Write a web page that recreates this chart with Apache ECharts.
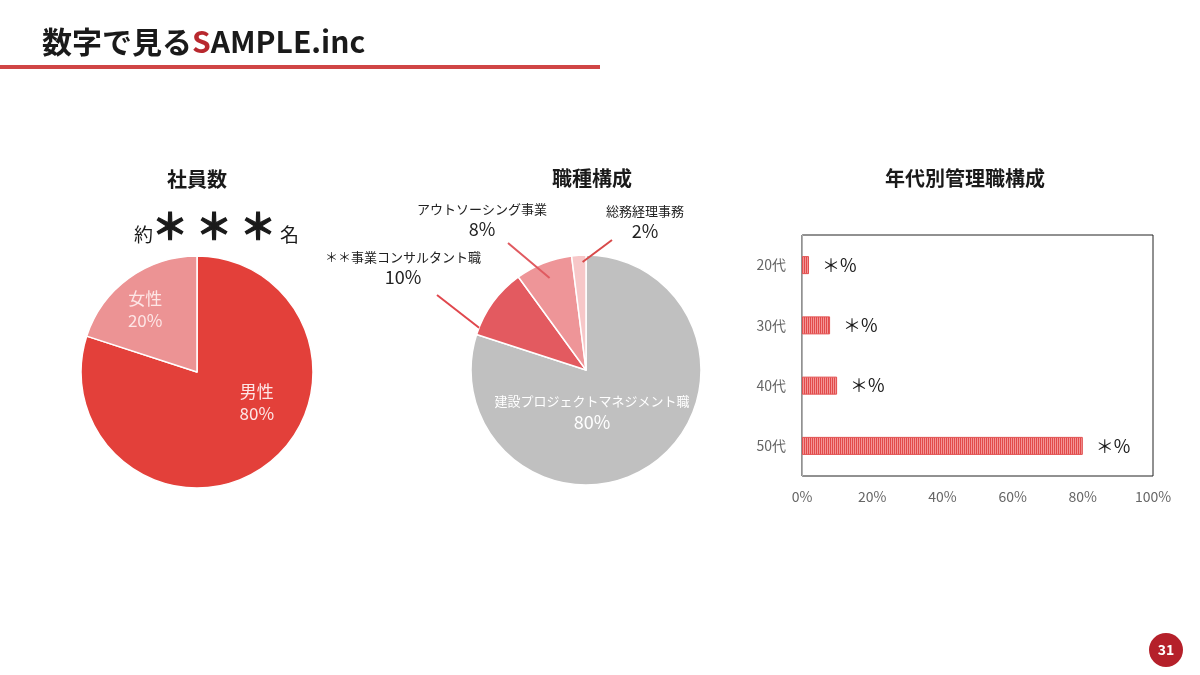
<!DOCTYPE html>
<html>
<head>
<meta charset="utf-8">
<script src="https://cdn.jsdelivr.net/npm/echarts@6/dist/echarts.min.js"></script>
<style>
  html, body { margin: 0; background: #fff; }
  #chart { width: 1200px; height: 675px; }
</style>
</head>
<body>
<div id="chart"></div>
<script>
// data
const genderNames = ['男性', '女性'];
const genderValues = [80, 20];
const genderColors = ['#e3403a', '#ec9394'];

const jobNames = ['建設プロジェクトマネジメント職', '＊＊事業コンサルタント職', 'アウトソーシング事業', '総務経理事務'];
const jobValues = [80, 10, 8, 2];
const jobColors = ['#c0c0c0', '#e35a60', '#ee9598', '#f7c7c8'];
const jobLineColors = [null, '#e0474d', '#e05a60', '#d84a4a'];

const ageCategories = ['20代', '30代', '40代', '50代'];
const ageValues = [2, 8, 10, 80];
const ageValueText = '＊%';

const FONT = '"Noto Sans CJK JP", "Noto Sans", sans-serif';

// striped fill for the bars
const stripe = document.createElement('canvas');
stripe.width = 2;
stripe.height = 2;
const sctx = stripe.getContext('2d');
sctx.fillStyle = '#e24a4a';
sctx.fillRect(0, 0, 1, 2);
sctx.fillStyle = '#f39595';
sctx.fillRect(1, 0, 1, 2);

// second pie geometry
const JOB_CENTER = [586, 370];
const JOB_RADIUS = 115;
// outside labels: [x, y, lineStartDx, lineStartDy, where along the slice, how deep]
const jobLabelAt = {
    0: [592, 412],
    1: [403, 268, 34, 27, 0.1, 1.0],
    2: [482, 220, 26, 23, 0.5, 0.86],
    3: [645, 222, -33, 18, 0.75, 0.94]
};
// nudges for inside labels of the first pie
const genderLabelShift = { 0: [24, -19], 1: [-16, -13] };

// point inside a slice of the second pie
function jobSlicePoint(index, frac, depth) {
    const total = jobValues.reduce((a, b) => a + b, 0);
    let before = 0;
    for (let i = 0; i < index; i++) before += jobValues[i];
    const deg = (before + jobValues[index] * frac) / total * 360;
    const rad = deg * Math.PI / 180;
    return [JOB_CENTER[0] + Math.sin(rad) * JOB_RADIUS * depth, JOB_CENTER[1] - Math.cos(rad) * JOB_RADIUS * depth];
}

// leader lines from the outside labels into their slices
const leaderLines = [1, 2, 3].map(i => {
    const o = jobLabelAt[i];
    const tip = jobSlicePoint(i, o[4], o[5]);
    return {
        type: 'line', z: 100,
        shape: { x1: o[0] + o[2], y1: o[1] + o[3], x2: tip[0], y2: tip[1] },
        style: { stroke: jobLineColors[i], lineWidth: 2 }
    };
});

const chart = echarts.init(document.getElementById('chart'));

const option = {
    animation: false,
    textStyle: { fontFamily: FONT },
    graphic: [
        {
            type: 'text', x: 42, y: 42,
            style: {
                text: '{k|数字で見る}{s|S}{k|AMPLE.inc}',
                verticalAlign: 'middle',
                rich: {
                    k: { fontFamily: FONT, fontSize: 30, fontWeight: 'bold', fill: '#1a1a1a' },
                    s: { fontFamily: FONT, fontSize: 30, fontWeight: 'bold', fill: '#b8282e' }
                }
            }
        },
        { type: 'rect', shape: { x: 0, y: 65, width: 600, height: 4 }, style: { fill: '#d04545' } },
        { type: 'text', x: 197, y: 179, style: { text: '社員数', font: 'bold 20px ' + FONT, fill: '#1a1a1a', align: 'center', verticalAlign: 'middle' } },
        { type: 'text', x: 592, y: 178, style: { text: '職種構成', font: 'bold 20px ' + FONT, fill: '#1a1a1a', align: 'center', verticalAlign: 'middle' } },
        { type: 'text', x: 965, y: 178, style: { text: '年代別管理職構成', font: 'bold 20px ' + FONT, fill: '#1a1a1a', align: 'center', verticalAlign: 'middle' } },
        {
            type: 'text', x: 134, y: 226,
            style: {
                text: '{m|約}{b1|＊}{b|＊}{b|＊}{m|名}',
                align: 'left', verticalAlign: 'middle',
                rich: {
                    m: { fontFamily: FONT, fontSize: 19, fill: '#1a1a1a', verticalAlign: 'bottom', width: 15, padding: [4, 0, 0, 0] },
                    b1: { fontFamily: FONT, fontSize: 36, fontWeight: 'bold', fill: '#1a1a1a', stroke: '#1a1a1a', lineWidth: 1.2, padding: [0, 4, 0, 3] },
                    b: { fontFamily: FONT, fontSize: 36, fontWeight: 'bold', fill: '#1a1a1a', stroke: '#1a1a1a', lineWidth: 1.2, padding: [0, 4, 0, 4] }
                }
            }
        },
        { type: 'circle', shape: { cx: 1166, cy: 650, r: 17 }, style: { fill: '#b5202a' } },
        { type: 'text', x: 1166, y: 650, style: { text: '31', font: 'bold 14px ' + FONT, fill: '#fff', align: 'center', verticalAlign: 'middle' } }
    ].concat(leaderLines),
    grid: {
        left: 802, right: 47, top: 235, bottom: 199,
        show: true, borderColor: '#222', borderWidth: 1
    },
    xAxis: {
        type: 'value', min: 0, max: 100, interval: 20,
        axisLine: { show: false },
        axisTick: { show: false },
        splitLine: { show: false },
        axisLabel: { formatter: '{value}%', color: '#666', fontSize: 14, margin: 14, fontFamily: FONT }
    },
    yAxis: {
        type: 'category', inverse: true, data: ageCategories,
        axisLine: { show: true, lineStyle: { color: '#b0b0b0', width: 1 } },
        axisTick: { show: false },
        axisLabel: { color: '#666', fontSize: 14, margin: 16, fontFamily: FONT }
    },
    series: [
        {
            type: 'pie',
            center: [197, 372],
            radius: 116,
            startAngle: 90,
            clockwise: true,
            itemStyle: { borderColor: '#fff', borderWidth: 1.5 },
            label: {
                position: 'inside',
                formatter: '{b}\n{c}%',
                color: '#fde6e6',
                fontSize: 17,
                lineHeight: 22,
                fontFamily: FONT
            },
            labelLayout: function (p) {
                const s = genderLabelShift[p.dataIndex];
                return s ? { dx: s[0], dy: s[1] } : {};
            },
            data: genderNames.map((n, i) => ({ name: n, value: genderValues[i], itemStyle: { color: genderColors[i] } }))
        },
        {
            type: 'pie',
            center: JOB_CENTER,
            radius: JOB_RADIUS,
            startAngle: 90,
            clockwise: true,
            itemStyle: { borderColor: '#fff', borderWidth: 1.5 },
            label: {
                position: 'outside',
                overflow: 'none',
                formatter: '{n|{b}}\n{p|{c}%}',
                rich: {
                    n: { fontSize: 13, color: '#222', fontFamily: FONT, lineHeight: 19, align: 'center' },
                    p: { fontSize: 18, color: '#222', fontFamily: FONT, lineHeight: 22, align: 'center' }
                }
            },
            labelLine: { show: false },
            labelLayout: function (p) {
                const o = jobLabelAt[p.dataIndex];
                if (!o) return {};
                return { x: o[0], y: o[1], align: 'center', verticalAlign: 'middle' };
            },
            data: jobNames.map((n, i) => {
                const item = { name: n, value: jobValues[i], itemStyle: { color: jobColors[i] } };
                if (i === 0) {
                    item.label = {
                        position: 'inside',
                        overflow: 'none',
                        rich: {
                            n: { fontSize: 13, color: '#fff', fontFamily: FONT, lineHeight: 20, align: 'center' },
                            p: { fontSize: 18, color: '#fff', fontFamily: FONT, lineHeight: 22, align: 'center' }
                        }
                    };
                }
                return item;
            })
        },
        {
            type: 'bar',
            data: ageValues,
            barWidth: 18,
            itemStyle: { color: { image: stripe, repeat: 'repeat' }, borderColor: '#e25050', borderWidth: 1 },
            label: {
                show: true, position: 'right', distance: 13,
                formatter: () => ageValueText,
                color: '#1a1a1a', fontSize: 18, fontFamily: FONT
            }
        }
    ]
};

chart.setOption(option);
</script>
</body>
</html>
